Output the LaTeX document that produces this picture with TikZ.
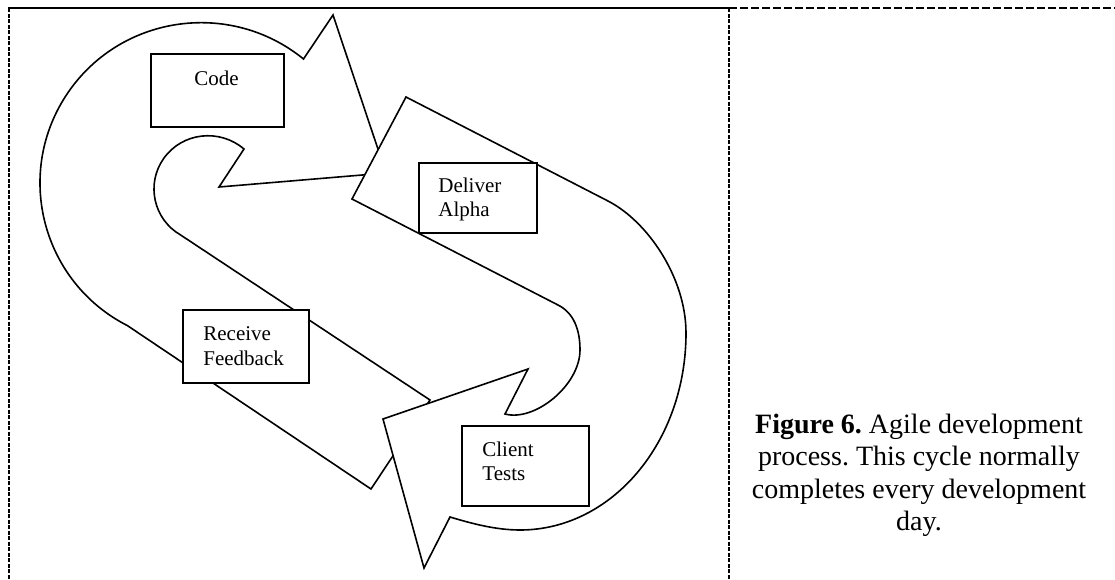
\documentclass[tikz,border=0pt]{standalone}
\usepackage{fontspec}
\setmainfont{Liberation Serif}
\frenchspacing
\begin{document}
\begin{tikzpicture}[x=0.5pt,y=-0.5pt,
  shapeline/.style={draw=black, line width=0.8pt, fill=white, line join=miter},
  boxnode/.style={draw=black, line width=0.9pt, fill=white, rectangle, inner sep=0pt, anchor=north west},
  lbl/.style={font=\fontsize{10.5}{12}\selectfont, inner sep=0pt, anchor=base west},
  captext/.style={font=\fontsize{14}{16}\selectfont, inner sep=0pt, anchor=base},
  border/.style={line width=1pt},
  vdash/.style={line width=1pt, dash pattern=on 2pt off 0.75pt},
  hdash/.style={line width=1pt, dash pattern=on 4pt off 1.5pt}]
\useasboundingbox (0,0) rectangle (1115,579);

% frame
\draw[border] (8,8) -- (729,8);
\draw[hdash] (729,8) -- (1115,8);
\draw[vdash] (8.5,8) -- (8.5,579);
\draw[vdash] (729,8) -- (729,579);

% arrow 1 (Receive Feedback -> Code -> Deliver Alpha)
\draw[shapeline] (430,400) -- (180.5,234.9)
  .. controls (153.6,219.4) and (145.7,184.1) .. (163.6,158.6)
  .. controls (182.1,132.2) and (219.6,128.2) .. (244,149)
  -- (219,187) -- (386,173) -- (333,15) -- (303.5,59)
  .. controls (229.2,-1.4) and (118.1,15.3) .. (65.8,95.9)
  .. controls (14.1,175.6) and (42.8,282.5) .. (127.4,325.6)
  -- (371,489) -- cycle;

% arrow 2 (Deliver Alpha -> Client Tests)
\draw[shapeline] (406,97) -- (608,201)
  .. controls (648,221.6) and (686,278) .. (686,333)
  .. controls (686,442) and (612,530) .. (520,530)
  .. controls (495,530) and (470,523) .. (450,517)
  -- (424,568) -- (383,419) -- (528,369) -- (505,414)
  .. controls (535,422) and (580,385) .. (580,350)
  .. controls (580,330) and (574,313) .. (558,305)
  -- (352,199) -- cycle;

% boxes
\node[boxnode, minimum width=66.5pt, minimum height=36.5pt] (code) at (150,53) {};
\node[boxnode, minimum width=59pt, minimum height=35pt] (deliver) at (418,162) {};
\node[boxnode, minimum width=63pt, minimum height=36.5pt] (receive) at (182,309) {};
\node[boxnode, minimum width=63.5pt, minimum height=40pt] (client) at (461,425) {};

% labels
\node[lbl, anchor=base] (codet) at (216.5,85) {Code};
\node[lbl] (delt1) at (438,192) {Deliver};
\node[lbl] (delt2) at (438,216) {Alpha};
\node[lbl] (rect1) at (203,340) {Receive};
\node[lbl] (rect2) at (203,365) {Feedback};
\node[lbl] (clit1) at (482,456) {Client};
\node[lbl] (clit2) at (482,480.5) {Tests};

% caption
\node[captext] (cap1) at (919,433) {\textbf{Figure 6.} Agile development};
\node[captext] (cap2) at (919,465.5) {process. This cycle normally};
\node[captext] (cap3) at (919,498) {completes every development};
\node[captext] (cap4) at (919,530.5) {day.};
\end{tikzpicture}
\end{document}
